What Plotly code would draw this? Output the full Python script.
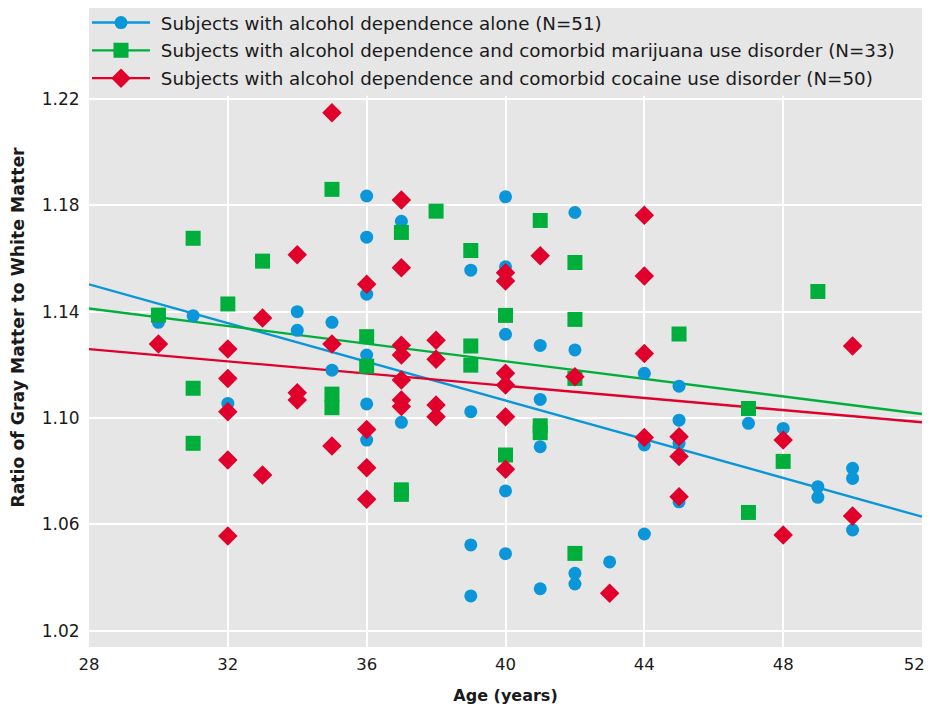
import plotly.graph_objects as go

# ---- data ----
alc_age = [30, 30, 31, 32, 34, 34, 35, 35, 36, 36, 36, 36, 36, 36, 37, 37,
           39, 39, 39, 39, 40, 40, 40, 40, 40, 41, 41, 41, 41, 42, 42, 42, 42,
           43, 44, 44, 44, 45, 45, 45, 45, 45, 47, 48, 49, 49, 50, 50, 50]
alc_ratio = [1.138, 1.136, 1.1385, 1.1055, 1.140, 1.133, 1.136, 1.118,
             1.1835, 1.168, 1.1466, 1.1237, 1.1053, 1.0917, 1.174, 1.0984,
             1.1556, 1.1024, 1.0523, 1.0331, 1.1832, 1.1569, 1.1315, 1.0726, 1.049,
             1.1273, 1.107, 1.0892, 1.0358, 1.1773, 1.1256, 1.0416, 1.0376,
             1.0459, 1.1168, 1.0899, 1.0564, 1.112, 1.0992, 1.0905, 1.0855, 1.0685,
             1.098, 1.0961, 1.0742, 1.0702, 1.0811, 1.0773, 1.0579]

mj_age = [30, 31, 31, 31, 32, 33, 35, 35, 35, 36, 36, 37, 37, 37, 38,
          39, 39, 39, 40, 40, 41, 41, 41, 42, 42, 42, 42, 45, 47, 47, 48, 49]
mj_ratio = [1.1387, 1.1676, 1.1112, 1.0905, 1.1429, 1.159, 1.186, 1.109, 1.1039,
            1.1306, 1.1195, 1.1698, 1.073, 1.0713, 1.1778,
            1.163, 1.1271, 1.1199, 1.1386, 1.0861, 1.1743, 1.0971, 1.0945,
            1.1585, 1.1371, 1.1149, 1.0491, 1.1316, 1.1036, 1.0645, 1.0837, 1.1476]

coc_age = [30, 32, 32, 32, 32, 32, 33, 33, 34, 34, 34, 35, 35, 35,
           36, 36, 36, 36, 37, 37, 37, 37, 37, 37, 37, 38, 38, 38, 38,
           40, 40, 40, 40, 40, 40, 41, 42, 43, 44, 44, 44, 44,
           45, 45, 45, 48, 48, 50, 50]
coc_ratio = [1.1278, 1.126, 1.1149, 1.1024, 1.0842, 1.0556, 1.1376, 1.0786,
             1.1614, 1.1095, 1.1068, 1.2148, 1.1278, 1.0895,
             1.1503, 1.0957, 1.0813, 1.0695,
             1.182, 1.1565, 1.1274, 1.1237, 1.1143, 1.1068, 1.1043,
             1.1293, 1.1221, 1.1049, 1.1005,
             1.1546, 1.1515, 1.1168, 1.1124, 1.1005, 1.0807,
             1.161, 1.1155, 1.0341, 1.1763, 1.1534, 1.1243, 1.0927,
             1.093, 1.0855, 1.0704, 1.0917, 1.056, 1.1271, 1.0632]

# regression lines (values at the ends of the age axis)
fit_age = [28, 52]
fit_alc = [1.1503, 1.0629]
fit_mj = [1.1412, 1.1015]
fit_coc = [1.1259, 1.0984]

names = ["Subjects with alcohol dependence alone (N=51)",
         "Subjects with alcohol dependence and comorbid marijuana use disorder (N=33)",
         "Subjects with alcohol dependence and comorbid cocaine use disorder (N=50)"]

x_ticks = [28, 32, 36, 40, 44, 48, 52]
y_ticks = [1.02, 1.06, 1.10, 1.14, 1.18, 1.22]

BLUE = "#0a96d8"
GREEN = "#00ae3b"
RED = "#e0002b"
BG = "#e6e6e6"
FONT = "DejaVu Sans"
TXT = "#1a1a1a"

Y_MIN, Y_MAX = 1.0139, 1.2542

series = [
    (alc_age, alc_ratio, fit_alc, BLUE, "circle", 13),
    (mj_age, mj_ratio, fit_mj, GREEN, "square", 15),
    (coc_age, coc_ratio, fit_coc, RED, "diamond", 15),
]

fig = go.Figure()
for (ax, ay, fy, col, sym, sz) in series:
    fig.add_trace(go.Scatter(x=fit_age, y=fy, mode="lines",
                             line=dict(color=col, width=2.4),
                             showlegend=False, hoverinfo="skip"))
for (ax, ay, fy, col, sym, sz), nm in zip(series, names):
    fig.add_trace(go.Scatter(x=ax, y=ay, mode="markers",
                             marker=dict(color=col, symbol=sym, size=sz,
                                         line=dict(width=0)),
                             showlegend=False, name=nm))
for i, ((ax, ay, fy, col, sym, sz), nm) in enumerate(zip(series, names)):
    fig.add_trace(go.Scatter(x=[None], y=[None], mode="lines+markers",
                             name="\u00a0" + nm, legendgroup="g%d" % i,
                             line=dict(color=col, width=2.4),
                             marker=dict(color=col, symbol=sym, size=sz)))

# grey band above the 1.22 grid line (legend area, no vertical grid lines)
band_bottom = (1.2212 - Y_MIN) / (Y_MAX - Y_MIN)
fig.add_shape(type="rect", xref="x", yref="paper", x0=28, x1=52,
              y0=band_bottom, y1=1, fillcolor=BG, line=dict(width=0), layer="above")

# last x label nudged left (trailing no-break spaces) so it stays inside the page
x_text = [str(v) for v in x_ticks]
x_text[-1] = x_text[-1] + "\u00a0\u00a0\u00a0"

fig.update_layout(
    width=926, height=698,
    margin=dict(l=81, r=12, t=0, b=59, autoexpand=False),
    paper_bgcolor="white", plot_bgcolor=BG,
    font=dict(family=FONT, size=17, color=TXT),
    legend=dict(x=-0.0024, y=1.006, xanchor="left", yanchor="top",
                bgcolor="rgba(0,0,0,0)", font=dict(size=18.3, color=TXT),
                itemwidth=58, tracegroupgap=1, traceorder="grouped"),
    xaxis=dict(range=[28, 52], tickvals=x_ticks, ticktext=x_text,
               showgrid=True, gridcolor="white", gridwidth=2, zeroline=False,
               showline=False, ticks="outside", ticklen=2, tickcolor="rgba(0,0,0,0)",
               tickfont=dict(size=16.5), automargin=False, ticklabeloverflow="allow",
               title=dict(text="<b>Age (years)</b>", font=dict(size=16), standoff=17)),
    yaxis=dict(range=[Y_MIN, Y_MAX], tickvals=y_ticks,
               ticktext=["%.2f" % v for v in y_ticks],
               showgrid=True, gridcolor="white", gridwidth=2, zeroline=False,
               showline=False, ticks="outside", ticklen=5, tickcolor="rgba(0,0,0,0)",
               tickfont=dict(size=17), automargin=False,
               title=dict(text="<b>Ratio of Gray Matter to White Matter</b>",
                          font=dict(size=17.3), standoff=12)),
    showlegend=True,
)

fig.write_html("out.html")
